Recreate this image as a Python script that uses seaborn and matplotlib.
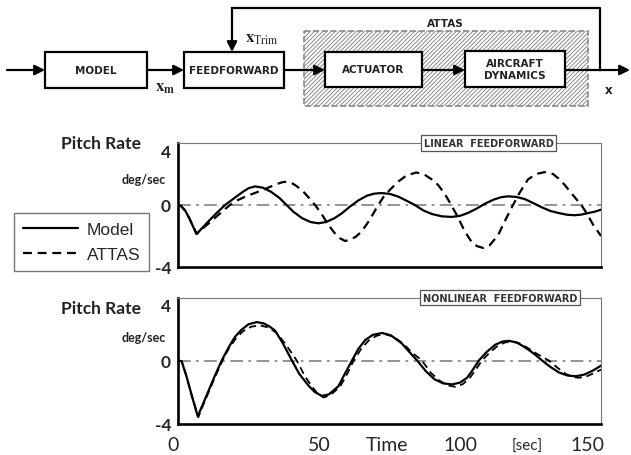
import matplotlib
matplotlib.use("Agg")
import matplotlib.pyplot as plt
import seaborn as sns
from matplotlib.patches import Rectangle
from matplotlib.transforms import ScaledTranslation

# ---------------- data ----------------
t_lin_model = [0, 1, 2.5, 4, 5.5, 6.6, 8.5, 10.8, 13.5, 16.7, 20, 23, 25, 27.3, 30, 33, 36, 38.5,
               41, 44, 47, 49.8, 52.5, 55.5, 58, 61, 64, 67, 69.5, 72, 75, 78, 81, 84, 87, 90,
               93.5, 97, 100, 103, 106, 109, 112, 114.5, 117, 120, 123, 126, 129, 132, 135, 138,
               140.6, 143, 146, 148, 150]
v_lin_model = [0, -0.05, -0.35, -0.85, -1.45, -1.87, -1.5, -1.05, -0.55, 0, 0.45, 0.85, 1.08, 1.2,
               1.12, 0.85, 0.45, 0, -0.45, -0.85, -1.1, -1.18, -1.1, -0.85, -0.55, -0.1, 0.3, 0.6,
               0.73, 0.77, 0.72, 0.55, 0.28, 0, -0.35, -0.58, -0.73, -0.77, -0.7, -0.5, -0.22, 0.1,
               0.35, 0.5, 0.56, 0.52, 0.38, 0.12, -0.15, -0.38, -0.52, -0.63, -0.66, -0.62, -0.5,
               -0.42, -0.3]

t_lin_attas = [0, 1, 2.5, 4, 5.5, 6.6, 8.5, 10.8, 13, 15.5, 18.4, 21, 24, 28.5, 32, 35, 37, 38.5, 40,
               41.5, 44, 46.5, 48.6, 51, 53.2, 55.5, 57.5, 59.2, 61, 63, 65.1, 68, 71, 73, 75, 78, 81,
               84.5, 87.5, 90, 92.2, 94.5, 96.9, 99, 101.7, 104, 106, 108.2, 110.5, 113.5, 116, 118.8,
               121, 124.1, 127, 130, 133, 135, 137.1, 140, 143, 145, 147.2, 150]
v_lin_attas = [0, -0.05, -0.35, -0.85, -1.45, -1.87, -1.55, -1.2, -0.85, -0.45, 0, 0.3, 0.55, 0.86,
               1.12, 1.35, 1.47, 1.5, 1.45, 1.29, 0.95, 0.45, 0, -0.6, -1.25, -1.8, -2.15, -2.32,
               -2.25, -2.05, -1.72, -0.95, 0, 0.55, 0.95, 1.5, 1.9, 2.1, 1.95, 1.65, 1.3, 0.75, 0,
               -0.7, -1.7, -2.35, -2.65, -2.77, -2.6, -1.95, -1.0, 0, 0.75, 1.65, 2.0, 2.12, 2.0,
               1.7, 1.3, 0.65, 0, -0.55, -1.27, -2.0]

t_nl_model = [0, 1.3, 3, 5, 7.0, 9, 11, 13, 15.5, 18, 20.2, 22.5, 25, 27.9, 30.5, 32.5, 34.4, 37,
              40.4, 43, 46.3, 48.5, 51, 53.5, 56.9, 59, 61.7, 64, 66.4, 69, 72.3, 75.5, 79.4, 82,
              84.8, 88, 91, 94, 97.2, 100, 102.5, 104.5, 106.7, 109.5, 112.5, 115, 117.3, 120, 122,
              124.4, 126.8, 129.1, 132, 135, 138, 141, 144, 147, 150]
v_nl_model = [0, -0.05, -1.0, -2.3, -3.54, -2.7, -1.85, -1.0, 0, 0.85, 1.5, 1.95, 2.3, 2.44, 2.35,
              2.15, 1.9, 1.15, 0, -0.85, -1.6, -2.0, -2.25, -2.15, -1.63, -0.9, 0, 0.75, 1.3, 1.62,
              1.75, 1.6, 1.08, 0.55, 0, -0.7, -1.2, -1.45, -1.52, -1.4, -1.1, -0.6, 0, 0.55, 1.0,
              1.2, 1.25, 1.15, 0.95, 0.67, 0.35, 0, -0.4, -0.75, -0.95, -1.0, -0.9, -0.65, -0.33]

t_nl_attas = [0, 1.3, 3, 5, 7.2, 9, 11, 13, 15.8, 18, 20.5, 23, 26, 29.1, 32, 35, 38.5, 42.1, 45,
              47.5, 49.5, 51.6, 54, 57.5, 60, 62.3, 65, 67.5, 70.5, 73.5, 76.5, 80, 83, 86.5, 89.5,
              92.5, 95.5, 98.4, 101, 103.5, 105.5, 107.8, 110.5, 113.5, 116, 118.5, 121, 124, 127.5,
              131.5, 134.5, 137.5, 140, 142.2, 145, 147.5, 150]
v_nl_attas = [0, -0.05, -1.0, -2.3, -3.6, -2.8, -1.95, -1.1, 0, 0.75, 1.4, 1.85, 2.15, 2.23, 2.1,
              1.75, 0.95, 0, -1.0, -1.65, -2.1, -2.35, -2.2, -1.65, -0.85, 0, 0.75, 1.25, 1.58,
              1.67, 1.5, 1.05, 0.5, 0, -0.75, -1.25, -1.58, -1.67, -1.5, -1.1, -0.6, 0, 0.5, 0.95,
              1.15, 1.19, 1.1, 0.8, 0.4, 0, -0.45, -0.85, -1.05, -1.1, -1.0, -0.8, -0.58]

series_labels = ["Model", "ATTAS"]
panel_titles = ["LINEAR  FEEDFORWARD", "NONLINEAR  FEEDFORWARD"]
x_tick_vals = [0, 25, 50, 75, 100, 125, 150]
x_tick_text = ["0", "", "50", "", "100", "", "150"]
y_tick_vals = [-4, 0, 4]
y_tick_text = ["-4", "0", "4"]

# ---------------- style ----------------
sns.set_style("white")
plt.rcParams["font.family"] = ["Lato", "DejaVu Sans"]
plt.rcParams["mathtext.fontset"] = "stix"
plt.rcParams["hatch.linewidth"] = 0.7

W, H = 631, 456
fig = plt.figure(figsize=(W / 100, H / 100), dpi=100)
fig.patch.set_facecolor("white")


def fx(x):
    return x / W


def fy(y):
    return 1 - y / H


# ---------------- block diagram ----------------
axd = fig.add_axes([0, 1 - 120 / H, 1, 120 / H])
axd.set_xlim(0, W)
axd.set_ylim(120, 0)
axd.axis("off")

axd.add_patch(Rectangle((304, 32), 284, 75, fc="white", ec="#8a8a8a", hatch="////////",
                        lw=1.2, ls="--", zorder=1))


def box(x0, y0, x1, y1, text):
    axd.add_patch(Rectangle((x0, y0), x1 - x0, y1 - y0, fc="white", ec="black", lw=1.6, zorder=3))
    axd.text((x0 + x1) / 2, (y0 + y1) / 2, text, ha="center", va="center", fontsize=7.5,
             fontweight="bold", family="DejaVu Sans", zorder=4, linespacing=1.35, color="#222")


def arrow(x0, y0, x1, y1):
    axd.annotate("", xy=(x1, y1), xytext=(x0, y0),
                 arrowprops=dict(arrowstyle="-|>,head_length=0.6,head_width=0.3", lw=1.6,
                                 color="black", shrinkA=0, shrinkB=0, mutation_scale=10),
                 zorder=5)


box(45, 53, 147, 89, "MODEL")
box(184, 53, 284, 89, "FEEDFORWARD")
box(325, 53, 422, 88, "ACTUATOR")
box(465, 52, 565, 88, "AIRCRAFT\nDYNAMICS")

arrow(7, 71, 45, 71)
arrow(147, 71, 184, 71)
arrow(284, 71, 325, 71)
arrow(422, 71, 465, 71)
arrow(565, 71, 630, 71)
axd.plot([600, 600, 232], [71, 9, 9], color="black", lw=1.6, solid_capstyle="projecting", zorder=5)
arrow(232, 9, 232, 53)

axd.text(165, 88, r"$\mathbf{x}_{\mathbf{m}}$", ha="center", va="center", fontsize=12)
axd.text(262, 39, r"$\mathbf{x}_{\mathrm{Trim}}$", ha="center", va="center", fontsize=12)
axd.text(445, 24, "ATTAS", ha="center", va="center", fontsize=7.5, fontweight="bold",
         family="DejaVu Sans", color="#222")
axd.text(609, 91, "x", ha="center", va="center", fontsize=8.5, fontweight="bold",
         family="DejaVu Sans", color="#222")

# ---------------- time plots ----------------
ax1 = fig.add_axes([fx(178), fy(268), (601 - 178) / W, (268 - 144) / H])
ax2 = fig.add_axes([fx(178), fy(424.5), (601 - 178) / W, (424.5 - 298.5) / H])

data = [(ax1, t_lin_model, v_lin_model, t_lin_attas, v_lin_attas, 1.6),
        (ax2, t_nl_model, v_nl_model, t_nl_attas, v_nl_attas, 1.3)]

for ax, tm, vm, ta, va, dlw in data:
    ax.axhline(0, color="#8a8a8a", lw=1.3, ls=(0, (7, 3, 1.5, 3)), zorder=1)
    sns.lineplot(x=tm, y=vm, ax=ax, color="black", lw=1.6, label=series_labels[0],
                 estimator=None, sort=False, zorder=3)
    sns.lineplot(x=ta, y=va, ax=ax, color="black", lw=dlw, linestyle=(0, (4, 2.6)),
                 label=series_labels[1], estimator=None, sort=False, zorder=3)
    ax.set_xlim(0, 150)
    ax.set_ylim(-4, 4)
    ax.set_xlabel("")
    ax.set_ylabel("")
    for s in ("left", "bottom"):
        ax.spines[s].set_linewidth(1.9)
        ax.spines[s].set_color("black")
    for s in ("top", "right"):
        ax.spines[s].set_linewidth(0.8)
        ax.spines[s].set_color("#777777")
    ax.set_yticks(y_tick_vals)
    ax.set_yticklabels(y_tick_text)
    ax.set_yticks([-2, 2], minor=True)
    ax.tick_params(axis="y", which="major", length=0, pad=5, labelsize=12.5)
    ax.tick_params(axis="y", which="minor", direction="in", length=7, width=0.8, color="#777")
    for lbl in ax.get_yticklabels():
        lbl.set_fontweight("bold")
    top = ax.get_yticklabels()[-1]
    top.set_transform(top.get_transform() + ScaledTranslation(0, -7 / 100, fig.dpi_scale_trans))
    ax.get_legend().remove()

handles, labels = ax1.get_legend_handles_labels()

# top panel x axis: ticks only
ax1.set_xticks(x_tick_vals[1:-1])
ax1.set_xticklabels([])
ax1.tick_params(axis="x", direction="in", length=7, width=0.8, color="#777")

# bottom panel x axis
ax2.set_xticks(x_tick_vals)
ax2.set_xticklabels(x_tick_text)
ax2.tick_params(axis="x", direction="in", length=7, width=0.8, color="#777", pad=9,
                labelsize=14)
mt = ax2.xaxis.get_major_ticks()
for tk in (mt[0], mt[-1]):
    tk.tick1line.set_visible(False)
l0 = mt[0].label1
l0.set_transform(l0.get_transform() + ScaledTranslation(-5 / 100, 0, fig.dpi_scale_trans))
l150 = mt[-1].label1
l150.set_transform(l150.get_transform() + ScaledTranslation(-14 / 100, 0, fig.dpi_scale_trans))

ax2.annotate("Time", xy=(74, 0), xycoords=("data", "axes fraction"), xytext=(0, -9),
             textcoords="offset points", ha="center", va="top", fontsize=14)
ax2.annotate("[sec]", xy=(124, 0), xycoords=("data", "axes fraction"), xytext=(0, -11),
             textcoords="offset points", ha="center", va="top", fontsize=11)

# panel title boxes on the top spine
for ax, title, xc in ((ax1, panel_titles[0], 0.734), (ax2, panel_titles[1], 0.762)):
    ax.text(xc, 1.0, title, transform=ax.transAxes, ha="center", va="center", fontsize=7,
            fontweight="bold", family="DejaVu Sans", color="#333", zorder=10, clip_on=False,
            bbox=dict(boxstyle="square,pad=0.3", fc="white", ec="#555", lw=0.9))

# left-side labels
for yc_pr, yc_deg in ((144, 180), (309, 338)):
    fig.text(fx(101), fy(yc_pr), "Pitch Rate", ha="center", va="center", fontsize=12.5,
             fontweight="bold", color="#222")
    fig.text(fx(144), fy(yc_deg), "deg/sec", ha="center", va="center", fontsize=9,
             fontweight="bold", color="#222")

# legend
leg = fig.legend(handles, labels, loc="upper left", bbox_to_anchor=(fx(14), fy(214)),
                 bbox_transform=fig.transFigure, borderaxespad=0, frameon=True, fancybox=False,
                 edgecolor="#777", framealpha=1, handlelength=3.2, handletextpad=0.5,
                 borderpad=0.5, labelspacing=0.6,
                 prop={"family": ["Liberation Sans", "DejaVu Sans"], "size": 12.5})
leg.get_frame().set_linewidth(1.0)

fig.savefig("out.png", dpi=100, facecolor="white")
